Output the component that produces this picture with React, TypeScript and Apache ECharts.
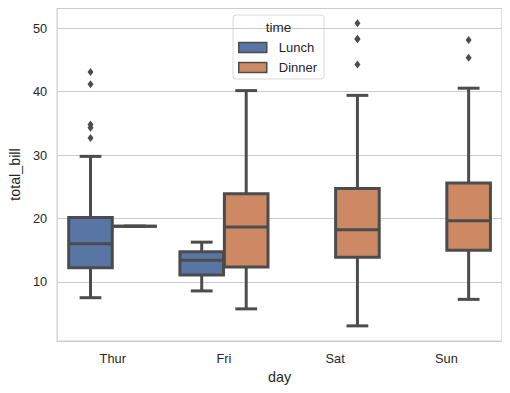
import React, { useEffect, useRef } from "react";
import * as echarts from "echarts";

const days = ["Thur", "Fri", "Sat", "Sun"];
// [dayIndex, low whisker, Q1, median, Q3, high whisker]
const lunchBoxes = [
  [0, 7.51, 12.24, 16.0, 20.16, 29.8],
  [1, 8.58, 11.1, 13.42, 14.76, 16.27],
];
const dinnerBoxes = [
  [0, 18.78, 18.78, 18.78, 18.78, 18.78],
  [1, 5.75, 12.35, 18.67, 23.9, 40.17],
  [2, 3.07, 13.91, 18.24, 24.74, 39.42],
  [3, 7.25, 14.99, 19.63, 25.6, 40.55],
];
// [dayIndex, value]
const lunchOutliers = [
  [0, 32.68],
  [0, 34.3],
  [0, 34.83],
  [0, 41.19],
  [0, 43.11],
];
const dinnerOutliers = [
  [2, 44.3],
  [2, 48.27],
  [2, 48.33],
  [2, 50.81],
  [3, 45.35],
  [3, 48.17],
];
const yMin = 0.683;
const yMax = 53.197;

const LUNCH = "#5875a4";
const DINNER = "#cc8963";
const EDGE = "#4c4c4c";
const FONT = "'Liberation Sans', Arial, sans-serif";

function boxRenderer(offsetFrac: number, color: string) {
  return (params: any, api: any) => {
    const cat = api.value(0);
    const vals = [1, 2, 3, 4, 5].map((i) => api.value(i));
    const band = api.size([1, 0])[0];
    const cx = api.coord([cat, vals[2]])[0] + offsetFrac * band;
    const hw = (band * 0.4 * 0.98) / 2;
    const capHw = hw / 2;
    const y = vals.map((v: number) => api.coord([cat, v])[1]);
    const ls = { stroke: EDGE, lineWidth: 3 };
    return {
      type: "group",
      children: [
        { type: "line", shape: { x1: cx, y1: y[0], x2: cx, y2: y[1] }, style: ls },
        { type: "line", shape: { x1: cx, y1: y[3], x2: cx, y2: y[4] }, style: ls },
        { type: "line", shape: { x1: cx - capHw, y1: y[0], x2: cx + capHw, y2: y[0] }, style: ls },
        { type: "line", shape: { x1: cx - capHw, y1: y[4], x2: cx + capHw, y2: y[4] }, style: ls },
        {
          type: "rect",
          shape: { x: cx - hw, y: y[3], width: hw * 2, height: y[1] - y[3] },
          style: { fill: color, stroke: EDGE, lineWidth: 3 },
        },
        { type: "line", shape: { x1: cx - hw, y1: y[2], x2: cx + hw, y2: y[2] }, style: ls },
      ],
    };
  };
}

function outlierRenderer(offsetFrac: number) {
  return (params: any, api: any) => {
    const cat = api.value(0);
    const v = api.value(1);
    const band = api.size([1, 0])[0];
    const p = api.coord([cat, v]);
    const cx = p[0] + offsetFrac * band;
    const cy = p[1];
    return {
      type: "polygon",
      shape: {
        points: [
          [cx, cy - 4],
          [cx + 3, cy],
          [cx, cy + 4],
          [cx - 3, cy],
        ],
      },
      style: { fill: EDGE },
    };
  };
}

export default function App() {
  const ref = useRef<HTMLDivElement>(null);
  useEffect(() => {
    if (!ref.current) return;
    const chart = echarts.init(ref.current, null, { renderer: "svg" });
    chart.setOption({
      animation: false,
      backgroundColor: "#ffffff",
      textStyle: { fontFamily: FONT },
      grid: {
        left: 55,
        right: 8,
        top: 8,
        bottom: 52,
        show: true,
        borderColor: "#cccccc",
        borderWidth: 1.25,
        backgroundColor: "transparent",
      },
      xAxis: {
        type: "category",
        data: days,
        name: "day",
        nameLocation: "middle",
        nameGap: 29,
        nameTextStyle: { color: "#262626", fontSize: 14.3, fontFamily: FONT },
        axisLine: { show: false },
        axisTick: { show: false },
        axisLabel: { color: "#262626", fontSize: 12.8, margin: 11, fontFamily: FONT },
        splitLine: { show: false },
      },
      yAxis: {
        type: "value",
        min: yMin,
        max: yMax,
        splitNumber: 5,
        name: "total_bill",
        nameLocation: "middle",
        nameGap: 31,
        nameTextStyle: { color: "#262626", fontSize: 14.3, fontFamily: FONT },
        axisLine: { show: false },
        axisTick: { show: false },
        axisLabel: {
          color: "#262626",
          fontSize: 12.8,
          margin: 10,
          fontFamily: FONT,
          showMinLabel: false,
          showMaxLabel: false,
          formatter: (v: number) => (Math.abs(v - Math.round(v)) < 1e-6 ? String(Math.round(v)) : ""),
        },
        splitLine: { show: true, lineStyle: { color: "#cccccc", width: 1 } },
      },
      legend: {
        left: 238,
        top: 41,
        orient: "vertical",
        icon: "rect",
        itemWidth: 28,
        itemHeight: 10,
        itemGap: 7,
        padding: 0,
        textStyle: { color: "#262626", fontSize: 13, fontFamily: FONT, padding: [0, 0, 0, 7] },
        data: [
          { name: "Lunch", itemStyle: { color: LUNCH, borderColor: EDGE, borderWidth: 1.5 } },
          { name: "Dinner", itemStyle: { color: DINNER, borderColor: EDGE, borderWidth: 1.5 } },
        ],
        selectedMode: false,
      },
      graphic: [
        {
          type: "rect",
          z: 0,
          shape: { x: 233, y: 15, width: 91, height: 64, r: 3 },
          style: { fill: "rgba(255,255,255,0.85)", stroke: "#d9d9d9", lineWidth: 1 },
        },
        {
          type: "text",
          z: 1,
          x: 278.5,
          y: 27,
          style: {
            text: "time",
            fill: "#262626",
            fontSize: 13.5,
            fontFamily: FONT,
            align: "center",
            verticalAlign: "middle",
          },
        },
      ],
      series: [
        {
          name: "Lunch",
          type: "custom",
          renderItem: boxRenderer(-0.2, LUNCH),
          itemStyle: { color: LUNCH },
          encode: { x: 0, y: [1, 2, 3, 4, 5] },
          data: lunchBoxes,
          z: 2,
        },
        {
          name: "Dinner",
          type: "custom",
          renderItem: boxRenderer(0.2, DINNER),
          itemStyle: { color: DINNER },
          encode: { x: 0, y: [1, 2, 3, 4, 5] },
          data: dinnerBoxes,
          z: 2,
        },
        {
          name: "Lunch outliers",
          type: "custom",
          renderItem: outlierRenderer(-0.2),
          encode: { x: 0, y: 1 },
          data: lunchOutliers,
          z: 2,
        },
        {
          name: "Dinner outliers",
          type: "custom",
          renderItem: outlierRenderer(0.2),
          encode: { x: 0, y: 1 },
          data: dinnerOutliers,
          z: 2,
        },
      ],
    });
    return () => chart.dispose();
  }, []);
  return <div ref={ref} style={{ width: 510, height: 393, margin: -8 }} />;
}
